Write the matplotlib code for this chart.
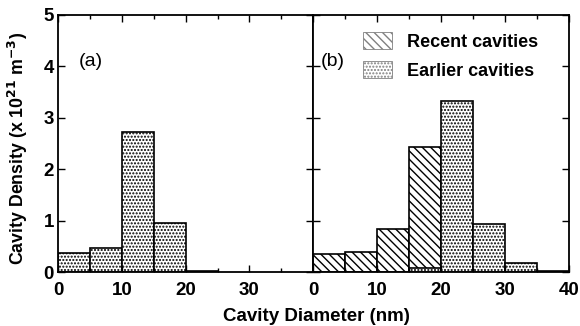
import matplotlib
matplotlib.use('Agg')
import matplotlib.pyplot as plt
from matplotlib.patches import Patch

plt.rcParams['font.family'] = ['Liberation Sans', 'DejaVu Sans']
plt.rcParams['hatch.linewidth'] = 1.0

# bin left edges (nm), width 5 nm
bins = [0, 5, 10, 15, 20, 25, 30, 35]
width = 5

# panel (a): earlier cavities only
earlier_a = [0.37, 0.46, 2.72, 0.96, 0.02, 0.0, 0.0, 0.0]

# panel (b): recent and earlier cavities
recent_b = [0.35, 0.38, 0.84, 2.43, 0.0, 0.0, 0.0, 0.0]
earlier_b = [0.0, 0.0, 0.0, 0.07, 3.33, 0.94, 0.18, 0.02]

xticks_a = [0, 10, 20, 30]
xticks_b = [0, 10, 20, 30, 40]
yticks = [0, 1, 2, 3, 4, 5]

fig = plt.figure(figsize=(5.8, 3.26), dpi=100)
ax1 = fig.add_axes([0.1, 0.1656, 0.44, 0.7884])
ax2 = fig.add_axes([0.54, 0.1656, 0.441, 0.7884], sharey=ax1)

dots = '.....'
lines = '\\\\\\\\'


def draw_bars(ax, values, hatch):
    for x, v in zip(bins, values):
        if v > 0:
            ax.bar(x, v, width=width, align='edge', facecolor='white',
                   edgecolor='black', linewidth=1.2, hatch=hatch)


draw_bars(ax1, earlier_a, dots)
draw_bars(ax2, recent_b, lines)
draw_bars(ax2, earlier_b, dots)

for ax, ticks in [(ax1, xticks_a), (ax2, xticks_b)]:
    ax.set_xlim(0, 40)
    ax.set_ylim(0, 5)
    ax.set_xticks(ticks)
    ax.set_xticks(range(0, 41, 5), minor=True)
    ax.set_yticks(yticks)
    ax.tick_params(which='both', direction='in', top=True, right=True,
                   width=1.0, labelsize=13.5)
    ax.tick_params(which='major', length=5)
    ax.tick_params(which='minor', length=3)
    ax.tick_params(axis='x', which='major', pad=7)
    ax.tick_params(axis='y', which='major', pad=3)
    for s in ax.spines.values():
        s.set_linewidth(1.3)
    for lab in ax.get_xticklabels() + ax.get_yticklabels():
        lab.set_fontweight('bold')

ax2.tick_params(axis='y', which='both', labelleft=False)

ax1.set_ylabel(r'Cavity Density (x 10$^{\mathbf{21}}$ m$^{\mathbf{-3}}$)',
               fontsize=12.8, fontweight='bold')
ax1.yaxis.set_label_coords(-0.11, 0.48)
fig.text(0.545, 0.03, 'Cavity Diameter (nm)', ha='center', va='center',
         fontsize=13.5, fontweight='bold')

ax1.text(0.08, 0.8, '(a)', transform=ax1.transAxes, fontsize=14)
ax2.text(0.03, 0.8, '(b)', transform=ax2.transAxes, fontsize=14)

handles = [Patch(facecolor='white', edgecolor='gray', hatch=lines, linewidth=0.6),
           Patch(facecolor='white', edgecolor='gray', hatch=dots, linewidth=0.6)]
leg = ax2.legend(handles, ['Recent cavities', 'Earlier cavities'],
                 loc='upper left', bbox_to_anchor=(0.14, 0.99), frameon=False,
                 prop={'weight': 'bold', 'size': 13}, handlelength=1.6,
                 handleheight=1.1, handletextpad=0.8, labelspacing=0.55,
                 borderpad=0.3)

fig.savefig('out.png', dpi=100)
